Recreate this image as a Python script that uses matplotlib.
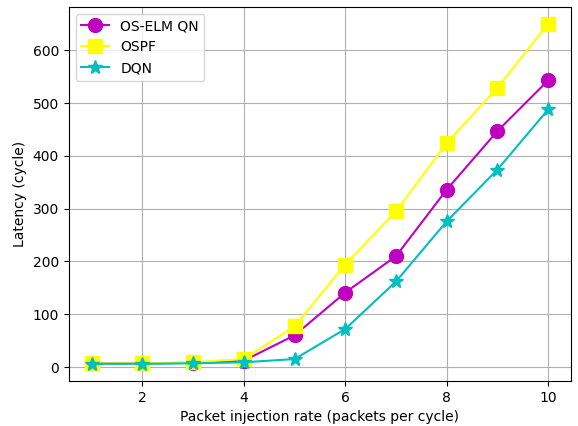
import matplotlib
matplotlib.use('Agg')
import matplotlib.pyplot as plt

rate = [1, 2, 3, 4, 5, 6, 7, 8, 9, 10]
oselm = [7, 7, 8, 12, 60, 141, 210, 336, 447, 543]
ospf = [7, 7, 9, 15, 77, 194, 295, 424, 529, 650]
dqn = [6, 6, 7, 9, 15, 72, 162, 276, 374, 488]

fig = plt.figure(figsize=(5.78, 4.26), dpi=100)
ax = fig.add_subplot(1, 1, 1)

ax.plot(rate, oselm, color='m', marker='o', markersize=10, label='OS-ELM QN')
ax.plot(rate, ospf, color='yellow', marker='s', markersize=10, label='OSPF')
ax.plot(rate, dqn, color='c', marker='*', markersize=10, label='DQN')

ax.set_xlabel('Packet injection rate (packets per cycle)')
ax.set_ylabel('Latency (cycle)')
ax.grid(True)
ax.legend(loc='upper left')

fig.subplots_adjust(left=0.119, right=0.988, top=0.984, bottom=0.106)
fig.savefig('out.png')
